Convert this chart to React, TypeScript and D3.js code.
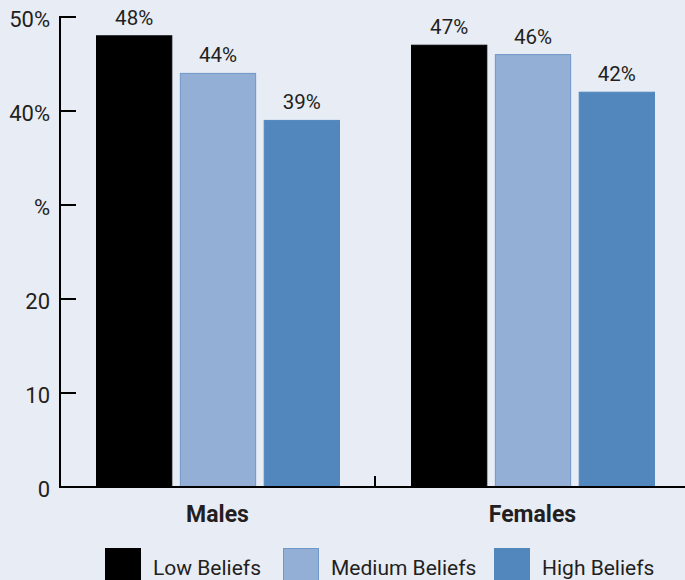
import React from "react";
import * as d3 from "d3";

const categories = ["Males", "Females"];
const seriesNames = ["Low Beliefs", "Medium Beliefs", "High Beliefs"];
const lowValues = [48, 47];
const mediumValues = [44, 46];
const highValues = [39, 42];
const tickValues = [0, 10, 20, 30, 40, 50];
const tickLabels = ["0", "10", "20", "%", "40%", "50%"];

const W = 685;
const H = 580;
const BG = "#e8ecf5";
const TEXT = "#231f20";
const FONT = "Roboto, 'Open Sans', sans-serif";
const fills = ["#000000", "#93afd6", "#5287be"];
const strokes = ["#000000", "#6f97c9", "#5287be"];

export default function App() {
  const y = d3.scaleLinear().domain([0, 50]).range([487, 17]);
  const x = d3.scaleBand<string>().domain(categories).range([60, 690]).padding(0);
  const inner = d3
    .scaleBand<string>()
    .domain(seriesNames)
    .range([36, 280])
    .paddingInner(0.09);
  const seriesValues = [lowValues, mediumValues, highValues];

  return (
    <div style={{ position: "absolute", left: 0, top: 0 }}>
      <svg width={W} height={H} style={{ display: "block" }} fontFamily={FONT}>
        <rect x={0} y={0} width={W} height={H} fill={BG} />
        {/* bars */}
        {categories.map((c, ci) =>
          seriesNames.map((s, si) => {
            const v = seriesValues[si][ci];
            const bx = (x(c) as number) + (inner(s) as number);
            const bw = inner.bandwidth();
            return (
              <g key={c + s}>
                <rect
                  x={bx + 0.5}
                  y={y(v)}
                  width={bw - 1}
                  height={y(0) - y(v)}
                  fill={fills[si]}
                  stroke={strokes[si]}
                  strokeWidth={1}
                />
                <text
                  x={bx + bw / 2}
                  y={y(v) - 11}
                  textAnchor="middle"
                  fontSize={20.5}
                  fill={TEXT}
                >
                  {v}%
                </text>
              </g>
            );
          })
        )}
        {/* y axis */}
        <line x1={60} x2={60} y1={16} y2={488} stroke="#000" strokeWidth={2} />
        {tickValues.map((t, i) => (
          <g key={t}>
            <line x1={60} x2={76} y1={y(t)} y2={y(t)} stroke="#000" strokeWidth={2} />
            <text
              x={50}
              y={y(t) + 10}
              textAnchor="end"
              fontSize={22}
              fill={TEXT}
            >
              {tickLabels[i]}
            </text>
          </g>
        ))}
        {/* x axis */}
        <line x1={59} x2={W} y1={y(0)} y2={y(0)} stroke="#000" strokeWidth={2} />
        <line
          x1={x("Females") as number}
          x2={x("Females") as number}
          y1={y(0)}
          y2={y(0) - 11}
          stroke="#000"
          strokeWidth={2}
        />
        {categories.map((c) => (
          <text
            key={c}
            x={(x(c) as number) + x.bandwidth() / 2}
            y={522}
            textAnchor="middle"
            fontSize={23}
            fontWeight="bold"
            fill={TEXT}
          >
            {c}
          </text>
        ))}
        {/* legend */}
        {seriesNames.map((s, si) => {
          const lx = [105, 283, 494][si];
          return (
            <g key={s}>
              <rect
                x={lx + 0.5}
                y={548.5}
                width={35}
                height={40}
                fill={fills[si]}
                stroke={strokes[si]}
                strokeWidth={1}
              />
              <text x={lx + 48} y={575} fontSize={21} fill={TEXT}>
                {s}
              </text>
            </g>
          );
        })}
      </svg>
    </div>
  );
}
